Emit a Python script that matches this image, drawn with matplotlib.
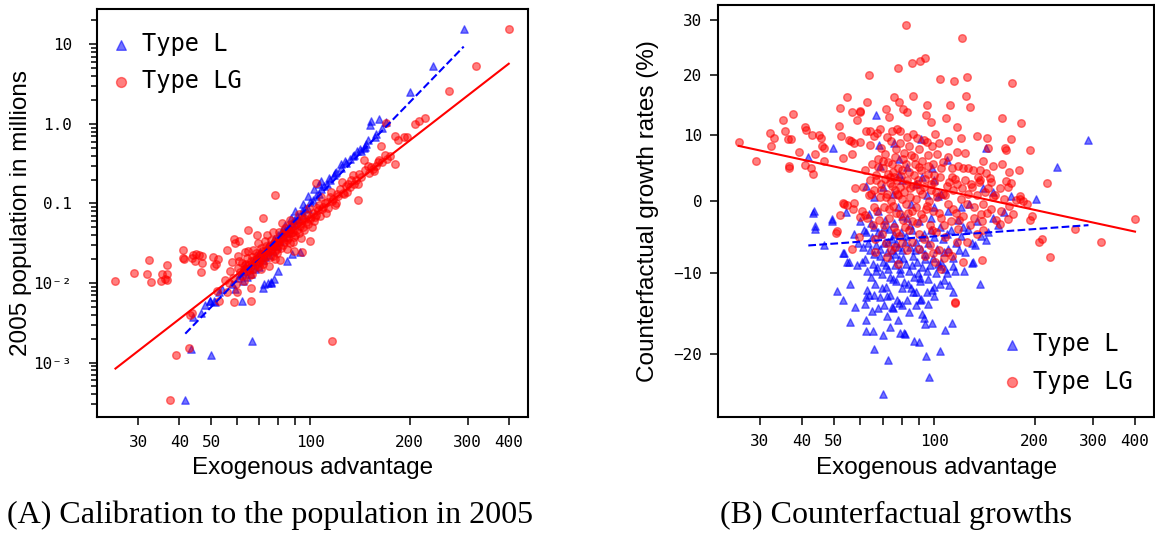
import matplotlib
matplotlib.use("Agg")
import matplotlib.pyplot as plt
import numpy as np
from matplotlib.ticker import FixedLocator, FixedFormatter, NullFormatter, NullLocator, LogLocator

MONO = ["DejaVu Sans Mono", "DejaVu Sans"]
SANS = ["Liberation Sans", "DejaVu Sans"]
SERIF = ["Liberation Serif", "DejaVu Serif"]

# ---- panel A: (exogenous advantage, 2005 population in millions) ----
pop_L = [
    (41.7, 0.00034), (43.3, 0.00148), (50.0, 0.00124), (66.5, 0.00186), (44.0, 0.0037),
    (46.7, 0.0042), (49.6, 0.0059), (50.9, 0.0059), (52.8, 0.0077), (53.8, 0.0083),
    (62.0, 0.0059), (71.8, 0.0087), (75.8, 0.0103), (77.7, 0.0113), (93.0, 0.0244),
    (292, 15.6), (235, 5.33), (201, 2.52), (161, 1.16), (152, 0.97), (153, 1.10),
    (156.8, 0.69), (147.3, 0.567), (145.5, 0.50), (141.4, 0.49), (138.4, 0.46),
    (134.8, 0.39), (127, 0.345), (123.5, 0.31), (119, 0.245), (114, 0.21), (108, 0.19),
    (106.4, 0.175), (102.6, 0.15), (98.5, 0.123), (95.1, 0.098), (89.8, 0.08),
    (87.3, 0.066), (84, 0.054), (81.7, 0.044), (77.3, 0.036), (74.1, 0.030),
    (70.5, 0.0245), (68.7, 0.022), (66.8, 0.0191), (63.3, 0.0164), (61.8, 0.0135),
    (60.2, 0.0117), (58, 0.0098), (59, 0.0085), (61, 0.0125), (62.5, 0.0105),
    (63, 0.0140), (64, 0.0118), (65, 0.0155), (66, 0.0128), (67, 0.0170), (68, 0.0150),
    (69, 0.0182), (70, 0.0160), (71, 0.0230), (72, 0.0195), (73, 0.0210), (74, 0.0260),
    (75, 0.0228), (76, 0.0300), (77, 0.0255), (78, 0.0330), (79, 0.0290), (80, 0.0400),
    (81, 0.0340), (82, 0.0420), (83, 0.0380), (84, 0.0470), (85, 0.0430), (86, 0.0520),
    (87, 0.0480), (88, 0.0560), (89, 0.0620), (90, 0.0540), (91, 0.0700), (92, 0.0640),
    (94, 0.0800), (95, 0.0720), (96, 0.0880), (98, 0.0850), (100, 0.1050), (102, 0.1100),
    (104, 0.1250), (106, 0.1300), (108, 0.1500), (110, 0.1650), (112, 0.1750),
    (115, 0.2000), (118, 0.2300), (120, 0.2500), (124, 0.2800), (128, 0.3200),
    (132, 0.3600), (136, 0.4100), (142, 0.4600), (146, 0.5200), (150, 0.6200),
    (158, 0.7500), (165, 0.9000), (170, 1.0500), (74.1, 0.0101), (49.7, 0.0060),
    (51.5, 0.0058), (48.0, 0.0053), (76, 0.0100), (72.5, 0.0098), (80, 0.0140),
    (85, 0.0190), (88, 0.0230),
]

pop_LG = [
    (25.6, 0.0106), (29.1, 0.0133), (32.3, 0.0195), (31.9, 0.0128), (32.9, 0.0103),
    (35.5, 0.0128), (36.1, 0.0113), (36.8, 0.0128), (36.6, 0.0110), (35.3, 0.0107),
    (36.8, 0.0170), (41.0, 0.0257), (41.0, 0.0208), (41.2, 0.0198), (43.6, 0.0208),
    (44.1, 0.0228), (45.0, 0.0232), (45.8, 0.0225), (46.8, 0.0221), (47.0, 0.0177),
    (46.4, 0.0139), (44.6, 0.0191), (50.5, 0.0214), (51.8, 0.0173), (52.4, 0.0201),
    (51.1, 0.0165), (56.0, 0.0257), (59.2, 0.0318), (60.6, 0.0334), (64.6, 0.0462),
    (68.8, 0.0399), (71.6, 0.0652), (78.3, 0.127), (58.5, 0.0362), (39.2, 0.00124),
    (37.5, 0.00034), (42.9, 0.00151), (43.8, 0.00425), (43.1, 0.00396), (52.2, 0.0079),
    (52.7, 0.0059), (58.8, 0.0057), (59.7, 0.0077), (65.9, 0.0059), (66.2, 0.0087),
    (115.9, 0.00189), (139.8, 0.112), (180, 0.314), (208, 0.99), (213, 1.09),
    (222, 1.17), (170, 1.02), (181, 0.71), (185, 0.625), (192, 0.676), (197, 0.69),
    (264, 2.6), (318, 5.38), (400, 15.7), (104, 0.183), (100, 0.0334), (94, 0.0244),
    (89, 0.0249), (163.3, 0.524), (168, 0.402), (161, 0.357), (156, 0.258),
    (145.5, 0.347), (153, 0.285),
    (55.2, 0.0108), (55.8, 0.0078), (57.1, 0.0143), (56.6, 0.0099), (58.3, 0.0116),
    (57.9, 0.0186), (60.1, 0.0155), (59.6, 0.0097), (60.4, 0.0219), (61.3, 0.0136),
    (60.9, 0.0190), (62.2, 0.0122), (61.8, 0.0180), (63.4, 0.0166), (62.9, 0.0106),
    (63.1, 0.0242), (64.3, 0.0207), (63.8, 0.0143), (65.2, 0.0167), (64.8, 0.0250),
    (65.6, 0.0125), (66.3, 0.0211), (66.9, 0.0150), (67.4, 0.0193), (67.1, 0.0258),
    (66.6, 0.0129), (68.2, 0.0174), (68.5, 0.0241), (69.3, 0.0223), (69.7, 0.0162),
    (69.1, 0.0315), (70.2, 0.0212), (70.6, 0.0276), (70.9, 0.0148), (71.4, 0.0255),
    (71.8, 0.0189), (72.3, 0.0232), (72.7, 0.0336), (72.0, 0.0174), (73.5, 0.0290),
    (73.1, 0.0218), (74.3, 0.0267), (74.7, 0.0165), (74.0, 0.0406), (75.4, 0.0252),
    (75.8, 0.0345), (76.4, 0.0304), (76.9, 0.0221), (77.5, 0.0288), (77.2, 0.0432),
    (78.0, 0.0202), (78.6, 0.0361), (78.9, 0.0271), (79.6, 0.0329), (79.2, 0.0235),
    (80.5, 0.0326), (80.2, 0.0440), (81.0, 0.0196), (82.3, 0.0405), (82.8, 0.0299),
    (81.8, 0.0563), (84.4, 0.0381), (83.7, 0.0495), (84.9, 0.0267), (86.2, 0.0452),
    (85.7, 0.0370), (86.8, 0.0617), (88.3, 0.0443), (87.6, 0.0554), (88.8, 0.0332),
    (90.4, 0.0546), (89.6, 0.0404), (93.2, 0.0528), (92.5, 0.0739), (93.8, 0.0370),
    (96.3, 0.0644), (95.6, 0.0468), (100.4, 0.0667), (99.1, 0.0867), (101.2, 0.0500),
    (104.5, 0.0869), (103.6, 0.0680), (108.4, 0.0854), (107.5, 0.120), (112.3, 0.105),
    (111.6, 0.0767), (116.4, 0.107), (115.5, 0.139), (120.5, 0.132), (119.4, 0.102),
    (125.3, 0.136), (124.6, 0.184), (130.5, 0.178), (129.4, 0.140), (135.6, 0.175),
    (134.4, 0.228), (140.6, 0.235), (139.5, 0.176), (150.4, 0.245), (149.3, 0.294),
    (160.2, 0.331), (170.5, 0.366),
    (62.7, 0.0150), (63.9, 0.0175), (65.1, 0.0145), (66.0, 0.0190), (67.7, 0.0165),
    (68.9, 0.0205), (69.8, 0.0185), (70.8, 0.0230), (71.2, 0.0200), (72.9, 0.0255),
    (73.8, 0.0235), (74.9, 0.0285), (75.3, 0.0210), (76.2, 0.0265), (77.8, 0.0320),
    (78.3, 0.0250), (79.9, 0.0300), (80.9, 0.0360), (81.4, 0.0275), (82.9, 0.0330),
    (83.2, 0.0420), (84.7, 0.0350), (85.3, 0.0460), (86.5, 0.0320), (87.2, 0.0420),
    (88.1, 0.0490), (89.3, 0.0380), (90.9, 0.0470), (91.5, 0.0600), (92.1, 0.0430),
    (93.6, 0.0560), (94.4, 0.0640), (95.1, 0.0500), (96.9, 0.0580), (97.7, 0.0720),
    (98.4, 0.0550), (99.6, 0.0640), (101.8, 0.0760), (102.5, 0.0600), (103.9, 0.0720),
    (105.3, 0.0830), (106.2, 0.0950), (107.1, 0.0700), (109.4, 0.0900), (110.7, 0.1000),
    (113.1, 0.0880), (114.5, 0.1200), (117.2, 0.1150), (118.8, 0.0950), (121.4, 0.1250),
    (123.1, 0.1500), (126.7, 0.1300), (127.9, 0.1650), (131.8, 0.1600), (133.2, 0.1950),
    (137.6, 0.2000), (142.4, 0.2150), (146.0, 0.2600), (155.0, 0.2700), (158.5, 0.3000),
    (165.0, 0.3300), (174.5, 0.3900),
]

# fitted lines: log10(pop) = a + b * log10(advantage)
fit_pop_L = (-9.555, 4.27)
fit_pop_LG = (-7.596, 3.21)

# ---- panel B: (exogenous advantage, counterfactual growth in %) ----
growth_L = [
    (290, 9.2), (234, 5.0), (202, 0.3), (143, 7.9), (66.7, 13.3), (49.8, 7.9), (41.9, 6.6),
    (43.4, -1.8), (43.9, -4.1), (49.3, -3.0), (46.8, -6.3), (54.4, -1.7), (53.4, -7.3),
    (54.8, -8.5), (51.1, -12.4), (53.1, -13.5), (55.7, -11.4), (58.0, -14.4), (55.7, -16.2),
    (62.3, -17.3), (65.5, -17.3), (66.1, -19.4), (70.1, -17.8), (72.5, -20.7), (70.1, -24.5),
    (96.2, -22.6), (94.6, -20.3), (104.0, -19.7), (86.7, -18.5), (89.7, -18.6), (107.5, -17.2),
    (112.8, -16.3), (98.6, -16.3), (93.8, -16.5), (93.2, -15.7), (81.0, -17.5), (62.3, -16.0),
    (64.9, -14.9), (63.9, -12.9), (74.7, -14.4), (78.5, -13.8), (82.6, -13.5), (88.1, -14.1),
    (91.3, -13.3), (98.6, -12.2), (106.9, -10.9), (110.9, -11.6), (113.9, -12.5), (122.5, -9.8),
    (130.4, -8.5), (136.9, -11.5), (132.1, -6.3), (143.3, -5.6), (155.5, -3.5), (161.9, -1.6),
    (170.3, 0.7), (150, 1.2), (140, 1.9), (127, -0.5), (102.5, 0.7), (99.8, 3.1), (109.3, 6.1),
    (83.0, 5.0), (78.5, 4.0), (68.9, 5.1), (62.6, 2.2), (75.6, 8.7), (78.5, 6.3), (91.3, 9.4),
    (98.6, 4.8), (62.9, -12.2), (62.2, -13.1), (73.8, -16.8), (79.0, -17.5), (81.8, -17.7),
    (129.4, -8.7), (113.5, -9.1), (108.9, -10.0), (104.0, -9.1), (95.0, -9.8), (90.7, -10.6),
    (86.4, -12.5), (90.7, -13.5), (79.9, -14.1), (75.3, -14.5), (70.6, -14.1), (68.9, -13.1),
    (68.4, 8.5), (43.5, -1.5), (44.0, -3.7), (49.4, -2.7), (53.6, -7.4), (55.4, -8.5),
    (60, -3.0), (61, -6.5), (62, -8.2), (62.5, -4.5), (63, -9.8), (63.5, -2.0), (64, -7.0),
    (64.5, -10.5), (65, -5.2), (65.5, -8.8), (66, -3.8), (66.5, -11.5), (67, -6.2),
    (67.5, -9.2), (68, -1.5), (68.5, -7.8), (69, -4.8), (69.5, -10.2), (70, -8.5),
    (70.5, -6.0), (71, -2.8), (71.5, -11.8), (72, -7.2), (72.5, -9.5), (73, -4.0),
    (73.5, -12.8), (74, -8.0), (74.5, -5.5), (75, -10.8), (75.5, -3.2), (76, -7.5),
    (76.5, -9.0), (77, -6.0), (77.5, -13.5), (78, -1.0), (78.5, -8.2), (79, -10.0),
    (79.5, -4.5), (80, -7.0), (81, -11.2), (82, -5.0), (82.5, -8.8), (83, -2.5), (84, -9.8),
    (84.5, -6.5), (85, -12.0), (86, -4.2), (86.5, -7.8), (87, -10.5), (88, -5.8), (89, -8.5),
    (90, -3.0), (90.5, -11.0), (91, -6.8), (92, -9.2), (93, -4.8), (94, -7.5), (95, -12.5),
    (96, -6.0), (97, -9.0), (98, -2.5), (99, -8.0), (100, -5.2), (101, -10.0), (102, -6.8),
    (104, -3.8), (105, -8.5), (106, -5.5), (108, -9.5), (110, -6.8), (112, -4.2), (114, -8.0),
    (116, -6.0), (118, -2.8), (120, -5.0), (124, -7.2), (126, -4.0), (130, -6.0), (134, -3.0),
    (138, -5.0), (145, -4.5), (150, -2.5), (85, -0.5), (75, 1.0), (95, 0.8), (70, 2.0),
    (88, 2.5), (100, -1.0), (66, 0.5), (80, 3.0), (92, 3.5), (105, 1.0), (110, -1.5),
    (120, -1.0), (60.5, -8.5), (58.5, -9.0), (59, -6.0), (57.5, -4.8), (62, -14.0),
    (68, -14.5), (72, -15.5), (78, -16.0), (80, -12.0), (84, -15.0), (88, -12.5), (92, -15.2),
    (96, -14.0), (100, -13.0), (104, -11.5), (72, -13.0), (66, -12.8),
    (61.5, -4.2), (63.2, -6.0), (64.8, -3.2), (65.8, -7.5), (66.8, -9.8), (67.8, -4.5),
    (68.8, -6.8), (69.8, -12.0), (70.8, -3.8), (71.8, -9.0), (72.8, -5.8), (73.8, -10.5),
    (74.8, -7.0), (75.8, -4.8), (76.8, -11.0), (77.8, -6.5), (78.8, -9.5), (79.8, -2.2),
    (80.8, -8.0), (81.8, -5.8), (83.5, -11.5), (84.8, -3.5), (85.8, -9.0), (87.8, -7.0),
    (89.5, -10.0), (91.8, -5.2), (93.5, -8.2), (95.8, -10.8), (97.5, -4.2), (99.5, -11.8),
    (102.8, -8.8), (107.0, -7.2), (109.5, -4.8), (115.0, -9.8), (118.5, -7.0), (122.0, -3.8),
]

growth_LG = [
    (82, 29.1), (121, 26.7), (78, 21.3), (86, 22.2), (90.3, 22.6), (93.6, 23.1), (63.8, 20.0),
    (104.3, 19.4), (114.3, 19.0), (125.5, 19.7), (170.8, 18.6), (54.8, 16.2), (62.9, 15.5),
    (52.3, 14.4), (75.6, 16.3), (86.6, 16.4), (78.3, 15.5), (80.6, 14.3), (82.7, 13.8),
    (71.6, 14.2), (95, 14.9), (111.5, 15.0), (124.6, 16.4), (128, 14.6), (94.7, 13.2),
    (108.5, 12.8), (97.6, 12.1), (159.8, 12.7), (181.4, 12.0), (117, 11.3), (134.4, 9.8),
    (144.3, 9.6), (170.3, 9.4), (164, 7.6), (163, 8.0), (193.2, 7.6), (168, 4.3), (180, 4.5),
    (166.7, 2.0), (218, 2.6), (137, 3.1), (196, -2.2), (210, -5.5), (223, -7.9), (264, -4.1),
    (317, -5.9), (400, -2.7), (115.6, -13.7), (181, 0.2), (185, 0.0),
    (25.9, 8.9), (29.1, 5.9), (32.2, 10.3), (32.4, 8.2), (33.0, 9.5), (35.2, 12.4),
    (35.6, 10.7), (36.4, 9.3), (37.2, 9.3), (37.8, 13.4), (36.7, 5.2), (36.7, 4.8),
    (39.4, 7.3), (41.1, 10.8), (40.9, 11.3), (40.9, 5.3), (42.7, 4.8), (43.4, 4.0),
    (43.0, 10.0), (45.0, 10.0), (45.6, 9.5), (44.0, 7.0), (46.2, 8.3), (46.6, 6.0),
    (46.6, 7.9), (51.8, 11.4), (52.4, 9.8), (53.1, 6.4), (56.5, 13.8), (56.3, 9.0),
    (55.6, 9.2), (56.6, 7.0), (57.7, 1.9), (53.5, -0.5), (50.8, -4.6), (59.8, -2.4),
    (61.8, -2.1), (57.2, -1.2),
    (59.7, 14.0), (60.0, 13.7), (73.0, 13.0), (58.7, 12.4), (57.5, 8.7), (59.7, 8.9),
    (62.2, 10.6), (64.3, 10.7), (67.3, 10.4), (68.9, 11.0), (72.1, 9.7), (74.6, 10.7),
    (77.2, 11.0), (79.0, 10.6), (82.7, 9.7), (86.4, 10.2), (88.5, 9.5), (92.9, 9.2),
    (95.0, 8.9), (98.3, 8.2), (100.5, 10.2), (116.7, 7.4), (145.1, 7.9), (112.7, 4.8),
    (118.0, 5.1), (122.1, 4.8), (126.4, 4.8), (130.9, 4.6), (136.9, 4.6), (143.4, 4.1),
    (146.7, 3.3), (157.1, 1.8), (164.6, 2.9), (170.3, 2.6), (176.4, 0.1), (180.3, 0.6),
    (193.1, -2.8), (206.8, -5.8), (157.1, -3.3), (166.4, -2.6), (153.5, -2.8), (140.1, -4.2),
    (133.9, -4.7), (125.0, -5.8), (116.7, -5.8), (110.1, -7.2), (112.7, -7.7), (122.1, -8.5),
    (138.6, -8.3), (115.3, -13.8), (100.5, -8.5), (99.3, -7.4), (53.3, -0.4), (54.7, -0.6),
    (57.5, -0.4), (52.0, -2.1), (50.9, -4.4), (56.8, -6.8), (59.3, -5.2), (66.6, -7.2),
    (72.1, -7.9), (78.1, -8.8),
    (62, 4.5), (64, 3.0), (65, 5.5), (66, 1.5), (67, 3.8), (68, 6.2), (68.5, 0.5), (69, 2.5),
    (70, 4.8), (70.5, -1.0), (71, 3.2), (72, 1.0), (72.5, 5.8), (73, -2.5), (73.5, 3.5),
    (74, 0.0), (74.5, 2.2), (75, 4.2), (75.5, -3.8), (76, 1.5), (76.5, 6.5), (77, -1.8),
    (77.5, 3.0), (78, 0.8), (78.5, -5.0), (79, 2.0), (80, 4.5), (80.5, -2.8), (81, 1.2),
    (82, 5.5), (82.5, -0.5), (83, 3.0), (84, -4.2), (84.5, 1.8), (85, 6.8), (86, -1.5),
    (87, 3.8), (88, 0.2), (88.5, -3.2), (89, 2.5), (90, 5.0), (91, -2.0), (92, 1.0),
    (93, -5.5), (94, 3.2), (95, -0.8), (96, 4.0), (97, -3.5), (98, 1.5), (99, -1.5),
    (100, 2.8), (101, -4.5), (102, 0.5), (104, 3.5), (105, -2.5), (106, 1.0), (108, -5.2),
    (109, 2.2), (110, -0.5), (112, -3.0), (114, 1.5), (116, -1.8), (118, -4.0), (120, 0.2),
    (122, -2.2), (126, 1.0), (128, -3.5), (132, -1.0), (134, 0.8), (138, -2.0), (142, 1.2),
    (148, -1.2), (150, 0.5), (60.5, -1.5), (61, 2.0), (63, -2.5), (63.5, 0.8), (65.5, -3.5),
    (66.5, -5.5), (67.5, -1.5), (69.5, -4.8), (71.5, -6.0), (74, -7.0), (76, -6.5),
    (80, -6.0), (83, -7.0), (86, -5.8), (90, -6.8), (94, -7.8), (97, -6.2), (103, -7.0),
    (105, -9.5), (107, -8.0),
    (64, 8.5), (66, 9.8), (69, 8.0), (71, 7.0), (74, 9.0), (77, 7.8), (79, 8.8), (81, 7.2),
    (84, 8.2), (87, 6.5), (90, 7.8), (92, 6.0), (96, 6.8), (99, 5.5), (102, 7.0), (106, 5.8),
    (110, 6.5), (113, 3.5), (117, 2.5), (124, 3.0), (130, 2.0), (136, 2.8), (140, -0.5),
    (145, 1.8), (152, 0.8), (158, -1.5), (162, 0.2), (168, -0.8), (172, -2.0), (190, -0.5),
    (140, 6.0), (150, 5.2), (160, 5.5), (124, 7.2), (110, 9.0), (103, 8.8), (120, 9.5),
    (64.5, 1.0), (65.8, -1.0), (66.8, 3.0), (67.8, 5.0), (68.3, -2.8), (69.4, 1.5),
    (70.3, 6.0), (70.9, -3.5), (71.7, 0.5), (72.4, 4.0), (73.2, -1.2), (73.9, 2.6),
    (74.8, 5.5), (75.2, -0.8), (75.9, 3.5), (76.7, -4.5), (77.3, 1.0), (77.9, 4.8),
    (78.7, -2.0), (79.4, 3.6), (80.2, 0.2), (80.8, 6.2), (81.5, -3.8), (82.2, 2.5),
    (83.4, -1.8), (83.9, 4.2), (84.8, 0.5), (85.6, -3.0), (86.4, 2.2), (87.5, 5.5),
    (88.2, -1.0), (89.3, 3.0), (89.8, -4.8), (90.6, 1.5), (91.4, 4.5), (92.5, -2.5),
    (93.4, 2.0), (94.6, -1.2), (95.5, 5.2), (96.4, 0.0), (97.6, 2.5), (98.5, -4.2),
    (99.5, 3.8), (101.5, 1.2), (103.2, -1.8), (104.6, 4.8), (106.8, -3.5), (107.8, 0.8),
    (111.0, 2.8), (113.5, -1.2), (115.2, 3.2), (119.0, -2.8), (121.5, 1.8), (125.5, -0.5),
    (129.0, 2.5), (131.5, -2.5), (135.5, 3.5), (139.0, -3.0), (144.0, -1.8), (147.5, 2.8),
]

# fitted lines: ln(1 + g/100) = a + b * log10(advantage)
fit_growth_L = (-0.1225, 0.0352)
fit_growth_LG = (0.228, -0.105)

x_ticks = [30, 40, 50, 100, 200, 300, 400]
x_minor = [60, 70, 80, 90]
pop_ticks = [1e-3, 1e-2, 0.1, 1.0, 10.0]
pop_labels = ["10\u207b\u00b3", "10\u207b\u00b2", "0.1", "1.0", "10"]
growth_ticks = [-20, -10, 0, 10, 20, 30]

plt.rcParams["font.family"] = MONO

BLUE = "#0000ff"
RED = "#ff0000"


def style_xaxis(ax):
    ax.set_xscale("log")
    ax.set_xlim(22.5, 457)
    ax.xaxis.set_major_locator(FixedLocator(x_ticks))
    ax.xaxis.set_major_formatter(FixedFormatter([str(t) for t in x_ticks]))
    ax.xaxis.set_minor_locator(FixedLocator(x_minor))
    ax.xaxis.set_minor_formatter(NullFormatter())
    ax.tick_params(axis="x", which="both", direction="out", length=5.5, width=1.1,
                   pad=7, labelsize=11.5)
    for s in ax.spines.values():
        s.set_linewidth(1.5)
    ax.set_xlabel("Exogenous advantage", fontsize=17.5, family=SANS)
    ax.xaxis.set_label_coords(0.5, -0.125)
    ax.xaxis.label.set_va("center")


def draw_points(ax, L, LG):
    lx, ly = np.array(L).T
    gx, gy = np.array(LG).T
    hL = ax.scatter(lx, ly, marker="^", s=28, color=BLUE, alpha=0.55, label="Type L", zorder=2)
    hG = ax.scatter(gx, gy, marker="o", s=30, color=RED, alpha=0.5, label="Type LG", zorder=3)
    return (hL, hG), (lx, gx)


fig = plt.figure(figsize=(11.55, 5.33), dpi=100)

# ---- panel A ----
ax1 = fig.add_axes([97 / 1155, 1 - 417.3 / 533, 430.8 / 1155, 408 / 533])
(hL, hG), (lx, gx) = draw_points(ax1, pop_L, pop_LG)
ax1.set_yscale("log")
for xs, (a, b), st in ((lx, fit_pop_L, "--"), (gx, fit_pop_LG, "-")):
    xr = np.array([xs.min(), xs.max()])
    ax1.plot(xr, 10 ** (a + b * np.log10(xr)), st, color=BLUE if st == "--" else RED,
             lw=1.5, zorder=4)
style_xaxis(ax1)
ax1.set_ylim(2.05e-4, 27.6)
ax1.yaxis.set_major_locator(FixedLocator(pop_ticks))
ax1.yaxis.set_major_formatter(FixedFormatter(pop_labels))
ax1.yaxis.set_minor_locator(LogLocator(base=10, subs=np.arange(2, 10)))
ax1.yaxis.set_minor_formatter(NullFormatter())
ax1.tick_params(axis="y", which="major", direction="out", length=6, width=1.1, pad=12,
                labelsize=11.5)
ax1.tick_params(axis="y", which="minor", direction="out", length=4.5, width=1.1)
ax1.set_ylabel("2005 population in millions", fontsize=17.5, family=SANS)
ax1.yaxis.set_label_coords(-0.177, 0.5)
ax1.yaxis.label.set(va="center", ha="center")
ax1.legend(handles=[hL, hG], loc="upper left", bbox_to_anchor=(0.0, 0.985), frameon=False,
           prop={"family": MONO, "size": 17}, borderaxespad=0.3, borderpad=0.4,
           handlelength=0.6, handletextpad=0.6, labelspacing=0.57, markerscale=1.3)

# ---- panel B ----
ax2 = fig.add_axes([718.3 / 1155, 1 - 416.7 / 533, 436 / 1155, 412 / 533])
ax2.set_yscale("function", functions=(lambda g: np.log1p(np.asarray(g) / 100.0),
                                      lambda v: np.expm1(v) * 100.0))
(hL2, hG2), (lx2, gx2) = draw_points(ax2, growth_L, growth_LG)
for xs, (a, b), st in ((lx2, fit_growth_L, "--"), (gx2, fit_growth_LG, "-")):
    xr = np.array([xs.min(), xs.max()])
    ax2.plot(xr, np.expm1(a + b * np.log10(xr)) * 100.0, st,
             color=BLUE if st == "--" else RED, lw=1.5, zorder=4)
style_xaxis(ax2)
ax2.set_ylim(-27, 33)
ax2.yaxis.set_major_locator(FixedLocator(growth_ticks))
ax2.yaxis.set_major_formatter(FixedFormatter([str(t).replace("-", "\u2212") for t in growth_ticks]))
ax2.yaxis.set_minor_locator(NullLocator())
ax2.tick_params(axis="y", which="major", direction="out", length=5.5, width=1.1, pad=6,
                labelsize=11.5)
ax2.set_ylabel("Counterfactual growth rates (%)", fontsize=17.5, family=SANS)
ax2.yaxis.set_label_coords(-0.161, 0.5)
ax2.yaxis.label.set(va="center", ha="center")
ax2.legend(handles=[hL2, hG2], loc="lower right", bbox_to_anchor=(0.989, 0.016), frameon=False,
           prop={"family": MONO, "size": 17}, borderaxespad=0.3, borderpad=0.4,
           handlelength=0.6, handletextpad=0.6, labelspacing=0.57, markerscale=1.3)

fig.text(270 / 1155, 1 - 515 / 533, "(A) Calibration to the population in 2005",
         ha="center", va="center", fontsize=23, family=SERIF)
fig.text(896 / 1155, 1 - 515 / 533, "(B) Counterfactual growths",
         ha="center", va="center", fontsize=23, family=SERIF)

fig.savefig("out.png", dpi=100)
